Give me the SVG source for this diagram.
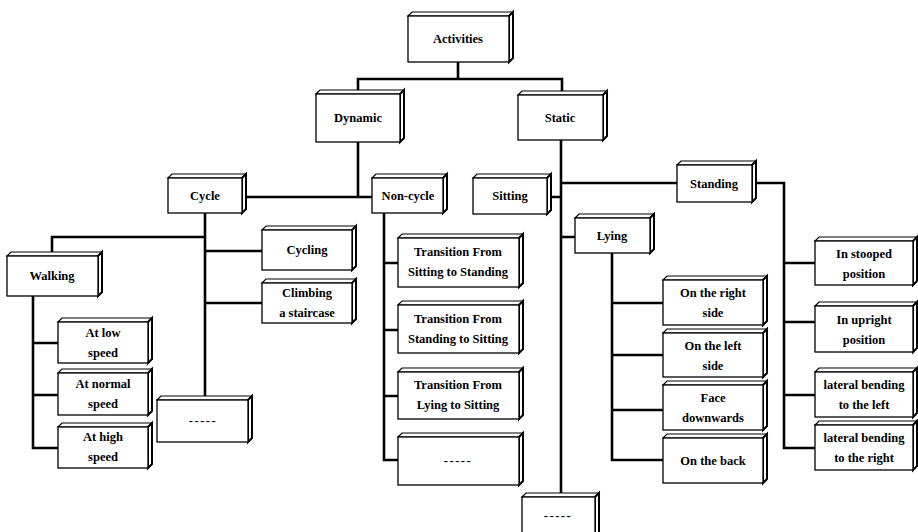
<svg xmlns="http://www.w3.org/2000/svg" width="918" height="532" viewBox="0 0 918 532">
<style>
.f{fill:#fff;stroke:#000;stroke-width:1.3}
.t{fill:#fff;stroke:#000;stroke-width:1.2}
.s{fill:#fff;stroke:#000;stroke-width:2}
.c{fill:none;stroke:#000;stroke-width:2.6;stroke-linecap:square}
text{font-family:"Liberation Serif","Times New Roman",serif;font-weight:bold;font-size:12.5px;text-anchor:middle;fill:#000}
.d{letter-spacing:1.5px}
</style>
<rect width="918" height="532" fill="#fff"/>
<g id="connectors">
<path class="c" d="M458 62V79M358 79H562M358 79V94M562 79V95"/>
<path class="c" d="M358 142V197M246 197H372"/>
<path class="c" d="M205 213V400M205 237H52V256M205 251H262M205 303H262"/>
<path class="c" d="M33 296V448M33 343H58M33 395H58M33 448H58"/>
<path class="c" d="M384 213V460M384 263H398M384 330H398M384 396H398M384 460H398"/>
<path class="c" d="M561 140V497M551 197H561M561 183H677M561 237H575"/>
<path class="c" d="M756 183H784V448M784 263H815M784 322H815M784 395H815M784 448H815"/>
<path class="c" d="M612 253V460M612 303H663M612 355H663M612 410H663M612 460H663"/>
</g>
<g id="activities"><path class="t" d="M408 16L412 12H513L509 16Z"/><path class="s" d="M509 16L513 12V58L509 62Z"/><rect class="f" x="408" y="16" width="101" height="46"/><text x="458" y="43">Activities</text></g>
<g id="dynamic"><path class="t" d="M316 94L320 90H404L400 94Z"/><path class="s" d="M400 94L404 90V138L400 142Z"/><rect class="f" x="316" y="94" width="84" height="48"/><text x="358" y="122">Dynamic</text></g>
<g id="static"><path class="t" d="M518 95L522 91H607L603 95Z"/><path class="s" d="M603 95L607 91V136L603 140Z"/><rect class="f" x="518" y="95" width="85" height="45"/><text x="560" y="122">Static</text></g>
<g id="cycle"><path class="t" d="M168 178L172 174H246L242 178Z"/><path class="s" d="M242 178L246 174V209L242 213Z"/><rect class="f" x="168" y="178" width="74" height="35"/><text x="205" y="200">Cycle</text></g>
<g id="noncycle"><path class="t" d="M372 178L376 174H447L443 178Z"/><path class="s" d="M443 178L447 174V209L443 213Z"/><rect class="f" x="372" y="178" width="71" height="35"/><text x="408" y="200">Non-cycle</text></g>
<g id="sitting"><path class="t" d="M473 178L477 174H551L547 178Z"/><path class="s" d="M547 178L551 174V210L547 214Z"/><rect class="f" x="473" y="178" width="74" height="36"/><text x="510" y="200">Sitting</text></g>
<g id="standing"><path class="t" d="M677 165L681 161H756L752 165Z"/><path class="s" d="M752 165L756 161V198L752 202Z"/><rect class="f" x="677" y="165" width="75" height="37"/><text x="714" y="188">Standing</text></g>
<g id="lying"><path class="t" d="M575 218L579 214H654L650 218Z"/><path class="s" d="M650 218L654 214V249L650 253Z"/><rect class="f" x="575" y="218" width="75" height="35"/><text x="612" y="240">Lying</text></g>
<g id="walking"><path class="t" d="M7 256L11 252H102L98 256Z"/><path class="s" d="M98 256L102 252V292L98 296Z"/><rect class="f" x="7" y="256" width="91" height="40"/><text x="52" y="280">Walking</text></g>
<g id="cycling"><path class="t" d="M262 230L266 226H356L352 230Z"/><path class="s" d="M352 230L356 226V266L352 270Z"/><rect class="f" x="262" y="230" width="90" height="40"/><text x="307" y="254">Cycling</text></g>
<g id="climbing"><path class="t" d="M262 283L266 279H356L352 283Z"/><path class="s" d="M352 283L356 279V319L352 323Z"/><rect class="f" x="262" y="283" width="90" height="40"/><text x="307" y="297">Climbing</text><text x="307" y="317">a staircase</text></g>
<g id="lowspeed"><path class="t" d="M58 322L62 318H152L148 322Z"/><path class="s" d="M148 322L152 318V359L148 363Z"/><rect class="f" x="58" y="322" width="90" height="41"/><text x="103" y="337">At low</text><text x="103" y="357">speed</text></g>
<g id="normalspeed"><path class="t" d="M58 373L62 369H152L148 373Z"/><path class="s" d="M148 373L152 369V411L148 415Z"/><rect class="f" x="58" y="373" width="90" height="42"/><text x="103" y="388">At normal</text><text x="103" y="408">speed</text></g>
<g id="highspeed"><path class="t" d="M58 427L62 423H152L148 427Z"/><path class="s" d="M148 427L152 423V464L148 468Z"/><rect class="f" x="58" y="427" width="90" height="41"/><text x="103" y="441">At high</text><text x="103" y="461">speed</text></g>
<g id="cycleother"><path class="t" d="M157 400L161 396H252L248 400Z"/><path class="s" d="M248 400L252 396V438L248 442Z"/><rect class="f" x="157" y="400" width="91" height="42"/><text class="d" x="203" y="425">-----</text></g>
<g id="trans1"><path class="t" d="M398 238L402 234H523L519 238Z"/><path class="s" d="M519 238L523 234V283L519 287Z"/><rect class="f" x="398" y="238" width="121" height="49"/><text x="458" y="256">Transition From</text><text x="458" y="276">Sitting to Standing</text></g>
<g id="trans2"><path class="t" d="M398 305L402 301H523L519 305Z"/><path class="s" d="M519 305L523 301V349L519 353Z"/><rect class="f" x="398" y="305" width="121" height="48"/><text x="458" y="323">Transition From</text><text x="458" y="343">Standing to Sitting</text></g>
<g id="trans3"><path class="t" d="M398 372L402 368H523L519 372Z"/><path class="s" d="M519 372L523 368V415L519 419Z"/><rect class="f" x="398" y="372" width="121" height="47"/><text x="458" y="389">Transition From</text><text x="458" y="409">Lying to Sitting</text></g>
<g id="noncycleother"><path class="t" d="M398 437L402 433H523L519 437Z"/><path class="s" d="M519 437L523 433V481L519 485Z"/><rect class="f" x="398" y="437" width="121" height="48"/><text class="d" x="458" y="465">-----</text></g>
<g id="staticother"><path class="t" d="M522 497L526 493H599L595 497Z"/><path class="s" d="M595 497L599 493V540L595 544Z"/><rect class="f" x="522" y="497" width="73" height="47"/><text class="d" x="558" y="520">-----</text></g>
<g id="rightside"><path class="t" d="M663 280L667 276H767L763 280Z"/><path class="s" d="M763 280L767 276V321L763 325Z"/><rect class="f" x="663" y="280" width="100" height="45"/><text x="713" y="297">On the right</text><text x="713" y="317">side</text></g>
<g id="leftside"><path class="t" d="M663 333L667 329H767L763 333Z"/><path class="s" d="M763 333L767 329V373L763 377Z"/><rect class="f" x="663" y="333" width="100" height="44"/><text x="713" y="350">On the left</text><text x="713" y="370">side</text></g>
<g id="facedown"><path class="t" d="M663 385L667 381H767L763 385Z"/><path class="s" d="M763 385L767 381V426L763 430Z"/><rect class="f" x="663" y="385" width="100" height="45"/><text x="713" y="402">Face</text><text x="713" y="422">downwards</text></g>
<g id="back"><path class="t" d="M663 438L667 434H767L763 438Z"/><path class="s" d="M763 438L767 434V479L763 483Z"/><rect class="f" x="663" y="438" width="100" height="45"/><text x="713" y="465">On the back</text></g>
<g id="stooped"><path class="t" d="M815 241L819 237H917L913 241Z"/><path class="s" d="M913 241L917 237V281L913 285Z"/><rect class="f" x="815" y="241" width="98" height="44"/><text x="864" y="258">In stooped</text><text x="864" y="278">position</text></g>
<g id="upright"><path class="t" d="M815 306L819 302H917L913 306Z"/><path class="s" d="M913 306L917 302V348L913 352Z"/><rect class="f" x="815" y="306" width="98" height="46"/><text x="864" y="324">In upright</text><text x="864" y="344">position</text></g>
<g id="bendleft"><path class="t" d="M815 372L819 368H917L913 372Z"/><path class="s" d="M913 372L917 368V413L913 417Z"/><rect class="f" x="815" y="372" width="98" height="45"/><text x="864" y="389">lateral bending</text><text x="864" y="409">to the left</text></g>
<g id="bendright"><path class="t" d="M815 425L819 421H917L913 425Z"/><path class="s" d="M913 425L917 421V466L913 470Z"/><rect class="f" x="815" y="425" width="98" height="45"/><text x="864" y="442">lateral bending</text><text x="864" y="462">to the right</text></g>
</svg>
